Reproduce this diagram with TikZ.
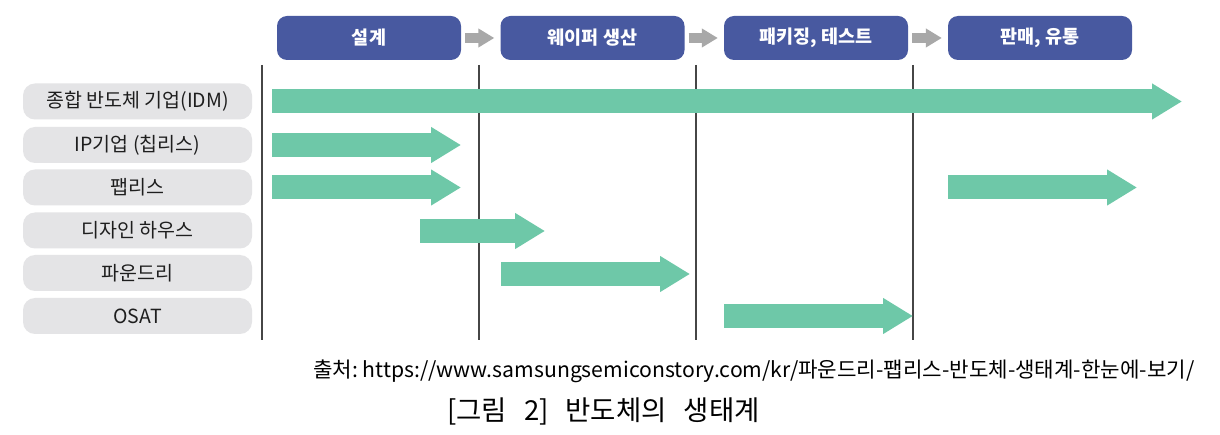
\documentclass[tikz,border=0pt]{standalone}
\usepackage{fontspec}
\setmainfont{Noto Sans CJK KR}
\usetikzlibrary{arrows.meta}
\definecolor{hdrblue}{RGB}{72,89,160}
\definecolor{lblgray}{RGB}{228,228,230}
\definecolor{flowgreen}{RGB}{110,200,168}
\definecolor{stepgray}{RGB}{168,168,168}
\definecolor{txtdark}{RGB}{30,30,30}
\definecolor{vline}{RGB}{70,70,70}
\tikzset{
  hdr/.style={fill=hdrblue, rounded corners=10pt, minimum width=184pt, minimum height=44pt,
    inner sep=0pt, text=white, font=\fontsize{18.5}{20}\selectfont\bfseries},
  lbl/.style={fill=lblgray, rounded corners=12pt, minimum width=229pt, minimum height=36pt,
    inner sep=0pt, text=txtdark, font=\fontsize{19.5}{21}\selectfont},
  steparrow/.style={draw=stepgray, line width=10pt, -{Triangle[width=18pt,length=16pt]}, shorten <=4pt, shorten >=6pt},
  flow/.style={draw=flowgreen, line width=24pt, -{Triangle[width=34pt,length=30pt]}},
  divider/.style={draw=vline, line width=1.1pt},
}
\begin{document}
\begin{tikzpicture}[x=1pt,y=-1pt]
\useasboundingbox (0,0) rectangle (1220,435);
\fill[white] (0,0) rectangle (1220,435);
% header stages
\node[hdr] (h1) at (369,38) {설계};
\node[hdr] (h2) at (592.5,38) {웨이퍼 생산};
\node[hdr] (h3) at (816,38) {패키징, 테스트};
\node[hdr] (h4) at (1040,38) {판매, 유통};
\draw[steparrow] (h1.east) -- (h2.west);
\draw[steparrow] (h2.east) -- (h3.west);
\draw[steparrow] (h3.east) -- (h4.west);
% dividers
\coordinate (d1t) at (262,65); \coordinate (d1b) at (262,340);
\coordinate (d2t) at (479,65); \coordinate (d2b) at (479,340);
\coordinate (d3t) at (696,65); \coordinate (d3b) at (696,340);
\coordinate (d4t) at (913,65); \coordinate (d4b) at (913,340);
\draw[divider] (d1t) -- (d1b);
\draw[divider] (d2t) -- (d2b);
\draw[divider] (d3t) -- (d3b);
\draw[divider] (d4t) -- (d4b);
% row labels
\node[lbl] (r1) at (137.5,101.5) {종합 반도체 기업(IDM)};
\node[lbl] (r2) at (137.5,145) {IP기업 (칩리스)};
\node[lbl] (r3) at (137.5,187.5) {팹리스};
\node[lbl] (r4) at (137.5,230.5) {디자인 하우스};
\node[lbl] (r5) at (137.5,273) {파운드리};
\node[lbl] (r6) at (137.5,316) {OSAT};
% flow arrows
\coordinate (a1s) at (272,101.5); \coordinate (a1e) at (1182,101.5);
\coordinate (a2s) at (272,145); \coordinate (a2e) at (461,145);
\coordinate (a3s) at (272,187.5); \coordinate (a3e) at (461,187.5);
\coordinate (a3bs) at (948,187.5); \coordinate (a3be) at (1137,187.5);
\coordinate (a4s) at (420,231); \coordinate (a4e) at (545,231);
\coordinate (a5s) at (501,274); \coordinate (a5e) at (690,274);
\coordinate (a6s) at (724,316); \coordinate (a6e) at (913,316);
\draw[flow] (a1s) -- (a1e);
\draw[flow] (a2s) -- (a2e);
\draw[flow] (a3s) -- (a3e);
\draw[flow] (a3bs) -- (a3be);
\draw[flow] (a4s) -- (a4e);
\draw[flow] (a5s) -- (a5e);
\draw[flow] (a6s) -- (a6e);
% captions
\node[anchor=base west, inner sep=0pt, text=black, font=\fontsize{21.2}{23}\selectfont] (src) at (313,377)
  {출처:\ https://www.samsungsemiconstory.com/kr/파운드리-팹리스-반도체-생태계-한눈에-보기/};
\node[anchor=base west, inner sep=0pt, text=black, font=\fontsize{27.5}{29}\selectfont] (cap) at (447,420)
  {[그림\hspace{17pt}2]\hspace{17pt}반도체의\hspace{17pt}생태계};
\end{tikzpicture}
\end{document}
